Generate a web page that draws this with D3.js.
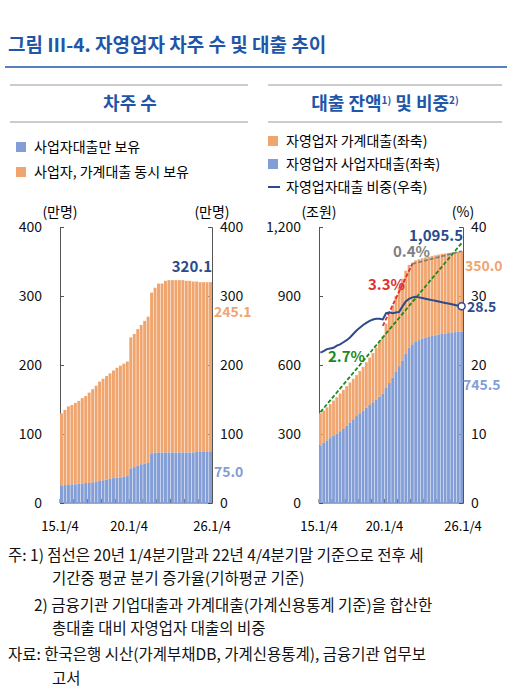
<!DOCTYPE html>
<html><head><meta charset="utf-8">
<script src="https://cdn.jsdelivr.net/npm/d3@7"></script>
<style>body{margin:0;background:#fff;font-family:"Noto Sans CJK KR","Noto Sans",sans-serif}</style>
</head><body><svg id="c" width="512" height="695"></svg>
<script>
// quarters 15Q1..25Q4
var quarters = d3.range(44).map(function(i){ return (15 + Math.floor(i/4)) + "Q" + (i%4+1); });
// left: borrowers (10k persons)
var bizOnly = [25,26,26,27,27,28,28,29,29,30,31,32,33,34,35,36,37,37,38,39,
  50,52,54,56,57,58,72,73,73,73,73,73,73,73,73,73,73,73,73,74,74,74,74,75.0];
var bothTotal = [130,135,140,142,145,148,152,155,160,165,170,176,180,184,188,192,196,199,202,205,
  240,245,252,258,264,270,305,312,318,318,322,323,323,323,323,323,322,322,321,321,320,320,320,320.1];
// right: loans (trillion won) and ratio (%)
var bizLoan = [250,262,272,282,292,302,312,322,336,350,364,378,390,402,414,426,438,450,462,476,
  500,522,545,570,595,620,650,675,690,700,708,714,718,722,726,729,732,735,737,739,741,743,744,745.5];
var totalLoan = [390,402,416,430,445,460,476,492,508,524,540,556,574,592,612,632,652,676,700,724,
  780,820,860,900,940,975,1010,1035,1045,1055,1060,1064,1068,1071,1074,1077,1080,1083,1085,1087,1089,1091,1093,1095.5];
var ratio = [21.8,22.0,22.3,22.4,22.5,22.8,23.0,23.3,23.6,24.0,24.5,25.0,25.4,25.8,26.1,26.4,26.6,26.7,26.7,26.6,
  27.5,27.6,27.5,27.6,27.7,28.5,29.2,29.6,29.8,29.9,29.8,29.7,29.6,29.5,29.4,29.3,29.2,29.1,29.0,28.9,28.8,28.7,28.6,28.5];
var xTicks = ["15.1/4","20.1/4","26.1/4"];
var trendGreen = [[0,395],[43,1130]], trendRed = [[19,770],[28,1040]], trendGrey = [[28,1040],[43,1095.5]];

var svg = d3.select("#c");
var BLUE = "#839ed6", ORANGE = "#f0a56e", NAVY = "#2d4a8a", FS = 14;
var font = '"Noto Sans CJK KR",sans-serif';

svg.append("text").attr("x",8).attr("y",52).attr("font-size",19).attr("font-weight","bold")
  .attr("fill","#1f56a8").attr("font-family",font).text("그림 Ⅲ-4. 자영업자 차주 수 및 대출 추이");
svg.append("line").attr("x1",5).attr("x2",507).attr("y1",67).attr("y2",67).attr("stroke","#1f56a8").attr("stroke-width",1.5);
[[10,248],[268,502]].forEach(function(d){
  svg.append("line").attr("x1",d[0]).attr("x2",d[1]).attr("y1",85).attr("y2",85).attr("stroke","#999");
  svg.append("line").attr("x1",d[0]).attr("x2",d[1]).attr("y1",122).attr("y2",122).attr("stroke","#999");
});
svg.append("text").attr("x",130).attr("y",110).attr("text-anchor","middle").attr("font-size",18).attr("font-weight","bold")
  .attr("fill","#1f56a8").text("차주 수");
var st = svg.append("text").attr("x",385).attr("y",110).attr("text-anchor","middle").attr("font-size",18).attr("font-weight","bold").attr("fill","#1f56a8");
st.append("tspan").text("대출 잔액");
st.append("tspan").attr("font-size",10).attr("dy",-6).text("1)");
st.append("tspan").attr("dy",6).text(" 및 비중");
st.append("tspan").attr("font-size",10).attr("dy",-6).text("2)");

var y0 = 503, y1 = 227;
function panel(x0, x1, yMax, yStep, yRight, unitL, unitR){
  var g = svg.append("g");
  var x = d3.scaleBand().domain(quarters).range([x0,x1]).paddingInner(0.15);
  var y = d3.scaleLinear().domain([0,yMax]).range([y0,y1]);
  var yr = d3.scaleLinear().domain([0,yRight]).range([y0,y1]);
  var la = g.append("g").attr("transform","translate("+x0+",0)")
    .call(d3.axisLeft(y).tickValues(d3.range(0,yMax+1,yStep)).tickFormat(d3.format(",")).tickSize(-4).tickPadding(18));
  var ra = g.append("g").attr("transform","translate("+x1+",0)")
    .call(d3.axisRight(yr).tickValues(d3.range(0,yRight+1,yRight/4)).tickFormat(d3.format(",")).tickSize(-4).tickPadding(8));
  [la,ra].forEach(function(a){ a.select(".domain").attr("stroke","#555");
    a.selectAll("text").attr("font-size",FS).attr("fill","#111").attr("font-family",font);
    a.selectAll(".tick line").attr("stroke","#555"); });
  var xs = function(i){ return x0 + (x1-x0)*i/44; };
  var xa = g.append("g").attr("transform","translate(0,"+y0+")");
  xa.append("line").attr("x1",x0).attr("x2",x1).attr("stroke","#555");
  d3.range(0,45,4).forEach(function(i){ xa.append("line").attr("x1",xs(i)).attr("x2",xs(i)).attr("y2",-4).attr("stroke","#555"); });
  xTicks.forEach(function(t,k){ var i=[0,20,44][k];
    xa.append("text").attr("x",xs(i)).attr("y",28).attr("text-anchor","middle").attr("font-size",13).attr("font-family",font).text(t); });
  g.append("text").attr("x",x0).attr("y",y1-10).attr("font-size",FS).attr("text-anchor","middle").attr("font-family",font).text(unitL);
  g.append("text").attr("x",x1).attr("y",y1-10).attr("font-size",FS).attr("text-anchor","middle").attr("font-family",font).text(unitR);
  return {g:g,x:x,y:y,yr:yr};
}

// left panel
var L = panel(60,212,400,100,400,"(만명)","(만명)");
L.g.selectAll(".t").data(quarters).enter().append("rect").attr("x",function(d){return L.x(d);}).attr("width",L.x.bandwidth())
  .attr("y",function(d,i){return L.y(bothTotal[i]);}).attr("height",function(d,i){return L.y(bizOnly[i])-L.y(bothTotal[i]);}).attr("fill",ORANGE);
L.g.selectAll(".b").data(quarters).enter().append("rect").attr("x",function(d){return L.x(d);}).attr("width",L.x.bandwidth())
  .attr("y",function(d,i){return L.y(bizOnly[i]);}).attr("height",function(d,i){return y0-L.y(bizOnly[i]);}).attr("fill",BLUE);
L.g.append("text").attr("x",212).attr("y",L.y(320.1)-10).attr("text-anchor","end").attr("font-size",15).attr("font-weight","bold").attr("fill",NAVY).text("320.1");
L.g.append("text").attr("x",214).attr("y",L.y(270)).attr("font-size",14).attr("font-weight","bold").attr("fill",ORANGE).text("245.1");
L.g.append("text").attr("x",214).attr("y",L.y(37)).attr("font-size",14).attr("font-weight","bold").attr("fill",BLUE).text("75.0");

// right panel
var R = panel(319,463,1200,300,40,"(조원)","(%)");
R.g.selectAll(".t").data(quarters).enter().append("rect").attr("x",function(d){return R.x(d);}).attr("width",R.x.bandwidth())
  .attr("y",function(d,i){return R.y(totalLoan[i]);}).attr("height",function(d,i){return R.y(bizLoan[i])-R.y(totalLoan[i]);}).attr("fill",ORANGE);
R.g.selectAll(".b").data(quarters).enter().append("rect").attr("x",function(d){return R.x(d);}).attr("width",R.x.bandwidth())
  .attr("y",function(d,i){return R.y(bizLoan[i]);}).attr("height",function(d,i){return y0-R.y(bizLoan[i]);}).attr("fill",BLUE);
var cx = function(i){ return R.x(quarters[i]) + R.x.bandwidth()/2; };
var tl = d3.line().x(function(d){return cx(d[0]);}).y(function(d){return R.y(d[1]);});
[[trendGreen,"#1c8a1c"],[trendRed,"#e03030"],[trendGrey,"#808080"]].forEach(function(t){
  R.g.append("path").attr("d",tl(t[0])).attr("fill","none").attr("stroke",t[1]).attr("stroke-width",1.8).attr("stroke-dasharray","4,2");
});
R.g.append("path").datum(ratio).attr("fill","none").attr("stroke",NAVY).attr("stroke-width",2)
  .attr("d",d3.line().x(function(d,i){return cx(i);}).y(function(d){return R.yr(d);}));
R.g.append("circle").attr("cx",cx(43)).attr("cy",R.yr(28.5)).attr("r",3.5).attr("fill","#fff").attr("stroke",NAVY).attr("stroke-width",1.5);
function lab(x,y,t,c,a,fs){ R.g.append("text").attr("x",x).attr("y",y).attr("text-anchor",a||"start").attr("font-size",fs||15).attr("font-weight","bold").attr("fill",c).text(t); }
lab(463,R.y(1095.5)-10,"1,095.5",NAVY,"end");
lab(465,R.y(1010),"350.0",ORANGE,"start",14);
lab(467,R.yr(28.5)+6,"28.5",NAVY,"start",14);
lab(463,R.y(490),"745.5",BLUE,"start",14);
lab(393,R.y(1070),"0.4%","#808080","start",15);
lab(368,R.y(925),"3.3%","#e03030","start",15);
lab(328,R.y(613),"2.7%","#1c8a1c","start",15);

// legends
function leg(x,y,c,t,line){
  if(line) svg.append("line").attr("x1",x).attr("x2",x+12).attr("y1",y).attr("y2",y).attr("stroke",c).attr("stroke-width",2);
  else svg.append("rect").attr("x",x).attr("y",y-5).attr("width",10).attr("height",10).attr("fill",c);
  svg.append("text").attr("x",x+18).attr("y",y+5).attr("font-size",14).attr("font-family",font).text(t);
}
leg(16,147,BLUE,"사업자대출만 보유");
leg(16,172,ORANGE,"사업자, 가계대출 동시 보유");
leg(268,141,ORANGE,"자영업자 가계대출(좌축)");
leg(268,164,BLUE,"자영업자 사업자대출(좌축)");
leg(268,187,NAVY,"자영업자대출 비중(우축)",true);

// notes
var notes = [[8,561,"주: 1) 점선은 20년 1/4분기말과 22년 4/4분기말 기준으로 전후 세"],[52,584,"기간중 평균 분기 증가율(기하평균 기준)"],
  [34,611,"2) 금융기관 기업대출과 가계대출(가계신용통계 기준)을 합산한"],[52,634,"총대출 대비 자영업자 대출의 비중"],
  [8,660,"자료: 한국은행 시산(가계부채DB, 가계신용통계), 금융기관 업무보"],[52,684,"고서"]];
notes.forEach(function(n){ svg.append("text").attr("x",n[0]).attr("y",n[1]).attr("font-size",15.5).attr("font-family",font).attr("fill","#111").text(n[2]); });
</script></body></html>
